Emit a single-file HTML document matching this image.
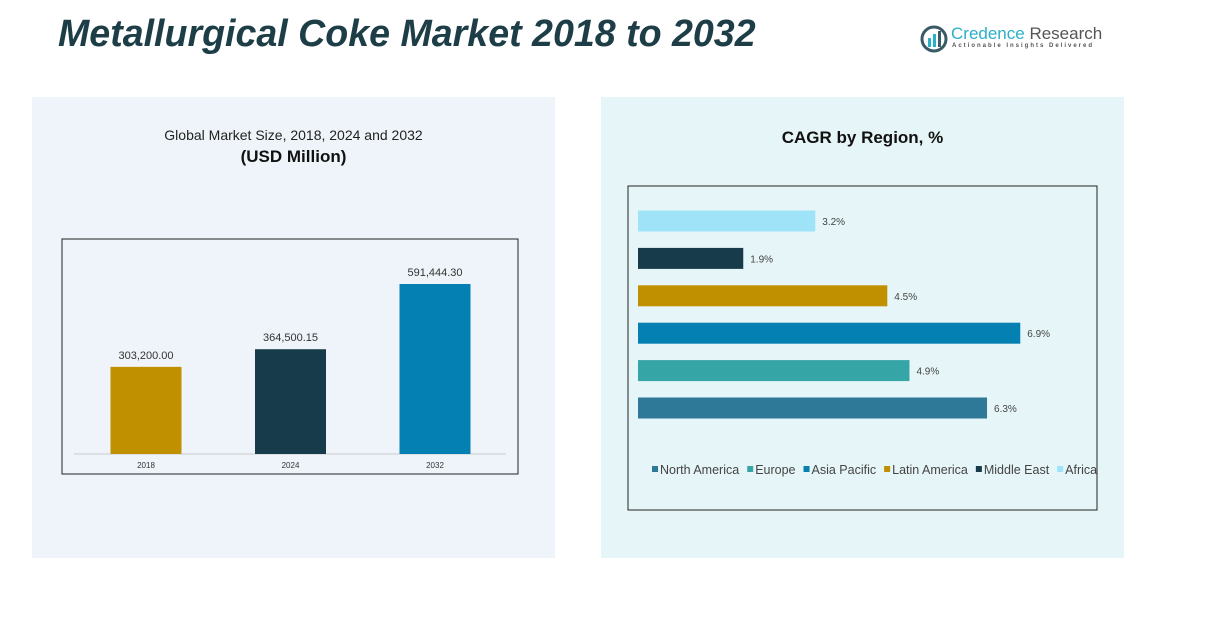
<!DOCTYPE html>
<html><head><meta charset="utf-8"><style>
body{margin:0;width:1217px;height:641px;background:#fff;position:relative;overflow:hidden;font-family:"Liberation Sans",sans-serif}
.abs{position:absolute}
</style></head><body>
<div class="abs" style="left:58px;top:12px;font:italic bold 37.6px 'Liberation Sans',sans-serif;color:#1d3d47;white-space:nowrap">Metallurgical Coke Market 2018 to 2032</div>
<div class="abs" style="left:920px;top:25px;width:190px;height:30px">
<svg width="30" height="30" style="position:absolute;left:0;top:0"><circle cx="14" cy="14" r="12" fill="none" stroke="#3a5a66" stroke-width="3"/><rect x="8" y="13" width="3" height="9" fill="#2ab0c8"/><rect x="13" y="9" width="3" height="13" fill="#2ab0c8"/><rect x="18" y="6" width="3" height="16" fill="#3a5a66"/></svg>
<div class="abs" style="left:31px;top:-1px;font:17px 'Liberation Sans',sans-serif;color:#2ab0c8;white-space:nowrap">Credence <span style="color:#555">Research</span></div>
<div class="abs" style="left:32px;top:18px;font:bold 6px 'Liberation Sans',sans-serif;color:#555;letter-spacing:2px;white-space:nowrap">Actionable Insights Delivered</div>
</div>
<div class="abs" style="left:32px;top:97px;width:523px;height:461px;background:#eef4f9"></div>
<div class="abs" style="left:601px;top:97px;width:523px;height:461px;background:#e6f5f7"></div>
<div class="abs" style="left:32px;top:127px;width:523px;text-align:center;font:14px 'Liberation Sans',sans-serif;color:#222">Global Market Size, 2018, 2024 and 2032</div>
<div class="abs" style="left:32px;top:147px;width:523px;text-align:center;font:bold 17px 'Liberation Sans',sans-serif;color:#111">(USD Million)</div>
<div class="abs" style="left:601px;top:128px;width:523px;text-align:center;font:bold 17px 'Liberation Sans',sans-serif;color:#111">CAGR by Region, %</div>
<svg class="abs" style="left:0;top:0" width="1217" height="641" id="svg"></svg>
<script>
const years=["2018","2024","2032"];
const sizes=[303200.00,364500.15,591444.30];
const sizeLabels=["303,200.00","364,500.15","591,444.30"];
const regions=["North America","Europe","Asia Pacific","Latin America","Middle East","Africa"];
const cagr=[6.3,4.9,6.9,4.5,1.9,3.2];
const colors=["#2e7898","#36a5a5","#0580b2","#c09000","#173b4a","#9ee3f8"];
const NS="http://www.w3.org/2000/svg";
const svg=document.getElementById('svg');
function mk(t,a,p){const e=document.createElementNS(NS,t);for(const k in a)e.setAttribute(k,a[k]);(p||svg).appendChild(e);return e;}
let b=mk('rect',{x:62,y:239,width:456,height:235,fill:'none',stroke:'#222','stroke-width':1});

const base=454,yS=v=>base-v*170/591444.3;
mk('line',{x1:74,x2:506,y1:base,y2:base,stroke:'#ccc'});
const leftCols=["#c09000","#173b4a","#0580b2"];
years.forEach((y,i)=>{const cx=146+i*144.5;const top=yS(sizes[i]);
const r=mk('rect',{x:cx-35.5,y:top,width:71,height:base-top,fill:leftCols[i]});

const t=mk('text',{x:cx,y:top-8,'text-anchor':'middle','font-size':11,fill:'#333','font-family':'Liberation Sans'});t.textContent=sizeLabels[i];

const l=mk('text',{x:cx,y:468,'text-anchor':'middle','font-size':8,fill:'#333','font-family':'Liberation Sans'});l.textContent=y;
});
b=mk('rect',{x:628,y:186,width:469,height:324,fill:'none',stroke:'#222','stroke-width':1});

const x0=638,xS=v=>v*55.4;
regions.forEach((r,i)=>{const cy=408-i*37.4;
const e=mk('rect',{x:x0,y:cy-10.5,width:xS(cagr[i]),height:21,fill:colors[i]});

const t=mk('text',{x:x0+xS(cagr[i])+7,y:cy+4,'font-size':10,fill:'#444','font-family':'Liberation Sans'});t.textContent=cagr[i].toFixed(1)+'%';
});
let lx=652;
regions.forEach((r,i)=>{const g=mk('g',{});
mk('rect',{x:lx,y:466,width:6,height:6,fill:colors[i]},g);
const t=mk('text',{x:lx+8,y:474,'font-size':12.5,fill:'#444','font-family':'Liberation Sans'},g);t.textContent=r;
lx+=8+t.getComputedTextLength()+8;});
</script>
</body></html>
